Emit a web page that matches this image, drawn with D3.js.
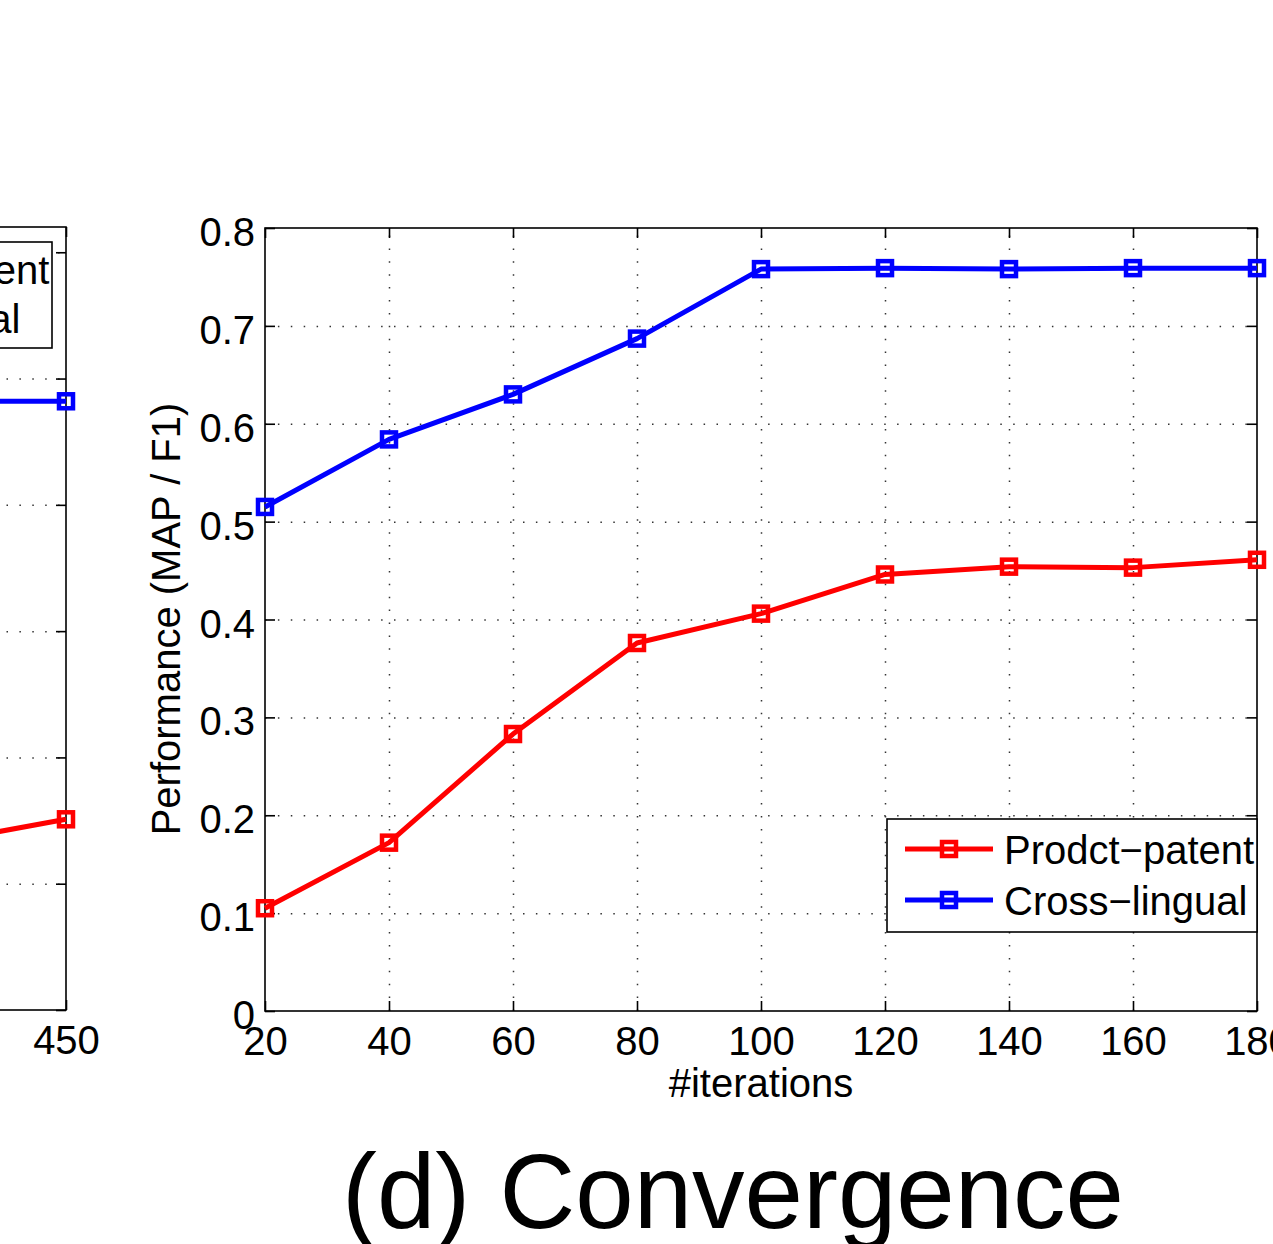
<!DOCTYPE html>
<html><head><meta charset="utf-8">
<script src="https://cdn.jsdelivr.net/npm/d3@7"></script>
<style>
body{margin:0;background:#fff;overflow:hidden}
text{font-family:"Liberation Sans",Arial,Helvetica,sans-serif;fill:#000}
</style>
</head><body>
<svg id="c" width="1273" height="1244"></svg>
<script>
// ---------- data: main panel (d) ----------
const iterations = [20, 40, 60, 80, 100, 120, 140, 160, 180];
const productPatent = [0.105, 0.172, 0.283, 0.376, 0.406, 0.446, 0.454, 0.453, 0.461];
const crossLingual  = [0.515, 0.584, 0.630, 0.687, 0.758, 0.759, 0.758, 0.759, 0.759];
const seriesNames = ["Prodct\u2212patent", "Cross\u2212lingual"];
const seriesColors = ["#ff0000", "#0000ff"];
const xTicks = [20, 40, 60, 80, 100, 120, 140, 160, 180];
const yTicks = [0, 0.1, 0.2, 0.3, 0.4, 0.5, 0.6, 0.7, 0.8];
const yTickLabels = ["0", "0.1", "0.2", "0.3", "0.4", "0.5", "0.6", "0.7", "0.8"];
const xLabel = "#iterations";
const yLabel = "Performance (MAP / F1)";
const title = "(d) Convergence";

// ---------- data: partially visible neighbouring panel ----------
const leftX = [400, 450];
const leftProductPatent = [0.133, 0.151];
const leftCrossLingual  = [0.482, 0.482];
const leftSeriesNames = ["Product\u2212patent", "Cross\u2212lingual"];
const leftXTicks = [450];
const leftXTickLabels = ["450"];
const leftYTicks = [0, 0.1, 0.2, 0.3, 0.4, 0.5, 0.6];

const svg = d3.select("#c");
const FS = 40;

function drawPanel(o) {
  const g = svg.append("g");
  const x = o.x, y = o.y;
  const [x0, x1] = x.range(), [y0, y1] = y.range(); // y0 bottom, y1 top
  const W = x1 - x0, H = y0 - y1;

  // grid
  const grid = g.append("g").attr("class", "grid");
  grid.append("g").attr("transform", `translate(0,${y0})`)
    .call(d3.axisBottom(x).tickValues(o.xGrid).tickSize(-H).tickFormat(""));
  grid.append("g").attr("transform", `translate(${x0},0)`)
    .call(d3.axisLeft(y).tickValues(o.yGrid).tickSize(-W).tickFormat(""));
  grid.selectAll(".domain").remove();
  grid.selectAll("line").attr("stroke", "#333").attr("stroke-width", 1.5)
    .attr("stroke-dasharray", "1.5,11.4");

  // border
  g.append("rect").attr("x", x0).attr("y", y1).attr("width", W).attr("height", H)
    .attr("fill", "none").attr("stroke", "#000").attr("stroke-width", 1.6);

  // inward ticks on all four sides
  const tk = (axis, tr) => {
    const a = g.append("g").attr("transform", tr).call(axis);
    a.select(".domain").remove();
    a.selectAll("line").attr("stroke", "#000").attr("stroke-width", 1.6);
    return a;
  };
  tk(d3.axisBottom(x).tickValues(o.xTicks).tickSize(-10).tickPadding(16)
      .tickFormat((d, i) => o.xTickLabels[i]), `translate(0,${y0})`);
  tk(d3.axisTop(x).tickValues(o.xTicks).tickSize(-10).tickFormat(""), `translate(0,${y1})`);
  const ly = tk(d3.axisLeft(y).tickValues(o.yTicks).tickSize(-10).tickPadding(10)
      .tickFormat((d, i) => o.yTickLabels ? o.yTickLabels[i] : ""), `translate(${x0},0)`);
  tk(d3.axisRight(y).tickValues(o.yTicks).tickSize(-10).tickFormat(""), `translate(${x1},0)`);
  g.selectAll(".tick text").attr("font-size", FS).attr("font-family", null).attr("fill", "#000");
  ly.selectAll(".tick text").attr("dy", "0.44em");

  // series
  const line = d3.line().x(d => x(d[0])).y(d => y(d[1]));
  o.series.forEach((s, k) => {
    const pts = o.xs.map((v, i) => [v, s[i]]);
    g.append("path").datum(pts).attr("d", line).attr("fill", "none")
      .attr("stroke", seriesColors[k]).attr("stroke-width", 5).attr("stroke-linejoin", "round");
    g.selectAll(null).data(pts).enter().append("rect")
      .attr("x", d => x(d[0]) - 7).attr("y", d => y(d[1]) - 7)
      .attr("width", 14).attr("height", 14)
      .attr("fill", "none").attr("stroke", seriesColors[k]).attr("stroke-width", 4.5);
  });

  // legend
  const L = o.legend;
  const lg = g.append("g");
  lg.append("rect").attr("x", L.left).attr("y", L.top).attr("width", L.right - L.left)
    .attr("height", L.height).attr("fill", "#fff").attr("stroke", "#000").attr("stroke-width", 1.6);
  L.names.forEach((n, k) => {
    const by = L.top + L.base[k];
    const ly2 = by - 15;
    lg.append("line").attr("x1", L.textX - 99).attr("x2", L.textX - 11)
      .attr("y1", ly2).attr("y2", ly2).attr("stroke", seriesColors[k]).attr("stroke-width", 5);
    lg.append("rect").attr("x", L.textX - 55 - 7).attr("y", ly2 - 7).attr("width", 14).attr("height", 14)
      .attr("fill", "none").attr("stroke", seriesColors[k]).attr("stroke-width", 4.5);
    lg.append("text").attr("x", L.textX).attr("y", by).attr("font-size", FS).text(n);
  });
  return g;
}

// left (cut off) panel
const xL = d3.scaleLinear().domain([400, 450]).range([-58, 66]);
const yL = d3.scaleLinear().domain([0, 0.62]).range([1010, 227]);
drawPanel({
  x: xL, y: yL, xs: leftX, series: [leftProductPatent, leftCrossLingual],
  xTicks: leftXTicks, xTickLabels: leftXTickLabels, xGrid: [400],
  yTicks: leftYTicks, yTickLabels: null, yGrid: leftYTicks.slice(1),
  legend: {left: -300, right: 52, top: 242, height: 106, textX: -223, base: [42, 91], names: leftSeriesNames}
});

// main panel
const x = d3.scaleLinear().domain([20, 180]).range([265, 1257]);
const y = d3.scaleLinear().domain([0, 0.8]).range([1011, 228]);
drawPanel({
  x: x, y: y, xs: iterations, series: [productPatent, crossLingual],
  xTicks: xTicks, xTickLabels: xTicks.map(String), xGrid: xTicks.slice(1, -1),
  yTicks: yTicks, yTickLabels: yTickLabels, yGrid: yTicks.slice(1, -1),
  legend: {left: 887, right: 1257, top: 819, height: 113, textX: 1004, base: [45, 96], names: seriesNames}
});

// axis labels and title
svg.append("text").attr("x", 761).attr("y", 1097).attr("text-anchor", "middle")
  .attr("font-size", FS).text(xLabel);
svg.append("text").attr("transform", "translate(180,619) rotate(-90)").attr("text-anchor", "middle")
  .attr("font-size", FS).text(yLabel);
svg.append("text").attr("x", 733).attr("y", 1228).attr("text-anchor", "middle")
  .attr("font-size", 105).text(title);
</script>
</body></html>
